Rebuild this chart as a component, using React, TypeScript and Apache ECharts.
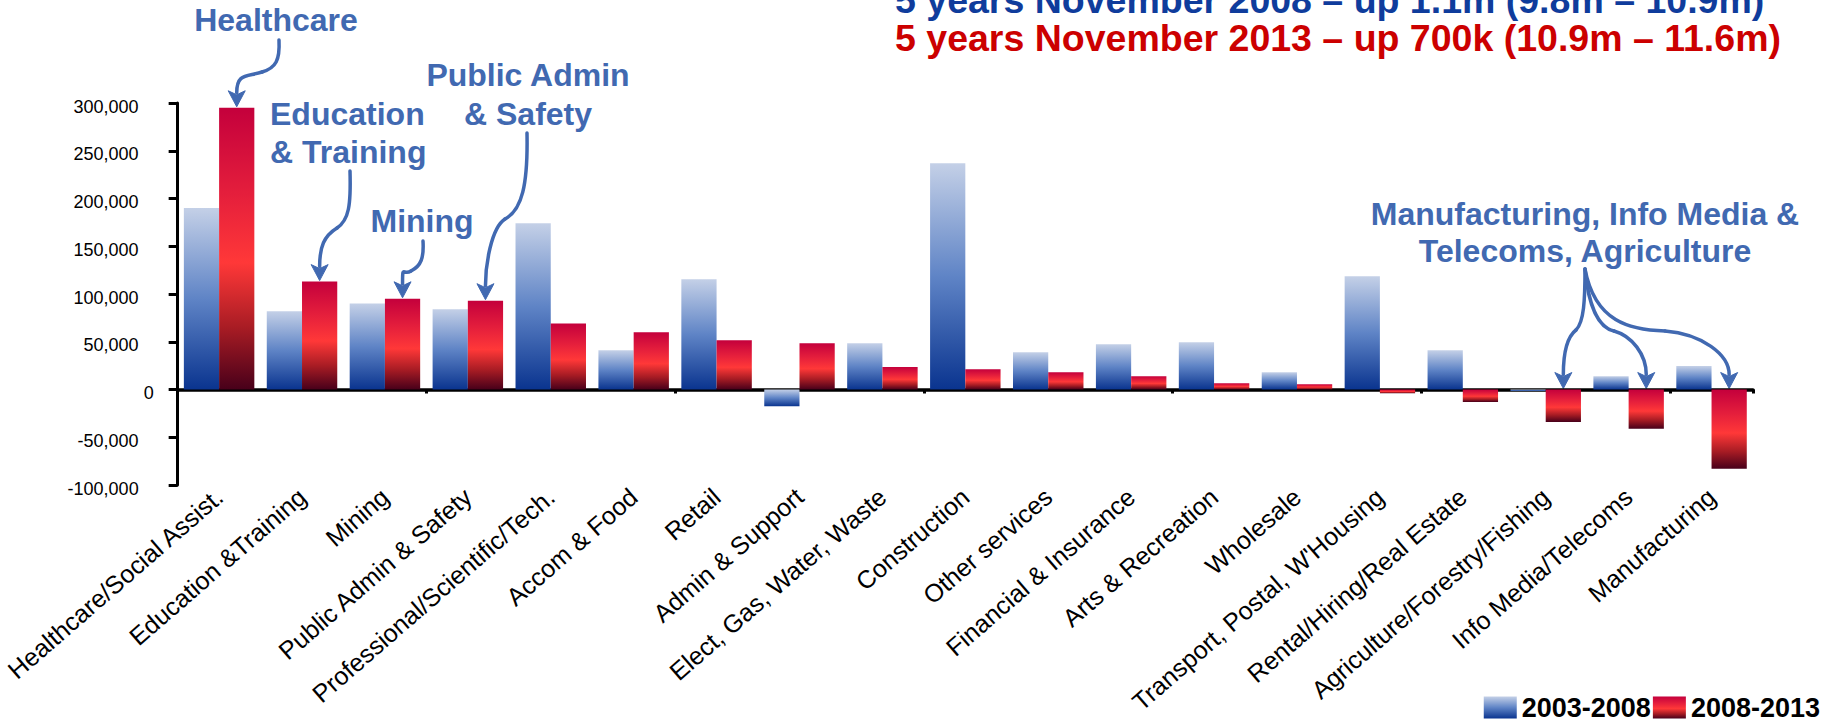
import React, { useEffect, useRef } from "react";
import * as echarts from "echarts";

const categories = [
  "Healthcare/Social Assist.",
  "Education &Training",
  "Mining",
  "Public Admin & Safety",
  "Professional/Scientific/Tech.",
  "Accom & Food",
  "Retail",
  "Admin & Support",
  "Elect, Gas, Water, Waste",
  "Construction",
  "Other services",
  "Financial & Insurance",
  "Arts & Recreation",
  "Wholesale",
  "Transport, Postal, W'Housing",
  "Rental/Hiring/Real Estate",
  "Agriculture/Forestry/Fishing",
  "Info Media/Telecoms",
  "Manufacturing",
];

const change2003to2008 = [
  190000, 82000, 90000, 84000, 174000, 41000, 115500, -17500, 48500, 237000,
  39000, 47500, 49500, 18000, 118500, 41000, -1500, 14000, 24500,
];

const change2008to2013 = [
  295000, 113000, 95000, 93000, 69000, 60000, 51500, 48500, 23500, 21300,
  18000, 14000, 6600, 5500, -4000, -13000, -34000, -41000, -83000,
];

const seriesNames = ["2003-2008", "2008-2013"];
const titleLines = [
  "5 years November 2008 \u2013 up 1.1m (9.8m \u2013 10.9m)",
  "5 years November 2013 \u2013 up 700k (10.9m \u2013 11.6m)",
];

const FONT = "'Liberation Sans', Arial, Helvetica, sans-serif";
const ANN = "#4169B1";
const BAR_CAT_GAP = 0.15;

export default function App() {
  const ref = useRef<HTMLDivElement>(null);

  useEffect(() => {
    if (!ref.current) return;
    const chart = echarts.init(ref.current, null, { renderer: "svg" });

    const blue = new echarts.graphic.LinearGradient(0, 0, 0, 1, [
      { offset: 0, color: "#C4D0E7" },
      { offset: 0.5, color: "#5F84C6" },
      { offset: 1, color: "#0A348F" },
    ]);
    const red = new echarts.graphic.LinearGradient(0, 0, 0, 1, [
      { offset: 0, color: "#C4003C" },
      { offset: 0.3, color: "#E41E3C" },
      { offset: 0.55, color: "#FF3838" },
      { offset: 0.78, color: "#A81C24" },
      { offset: 1, color: "#48001A" },
    ]);

    const fmt = (v: number) => {
      const s = Math.abs(v).toLocaleString("en-US");
      const t = (v < 0 ? "-" : "") + s;
      return v === 0 ? t : t + "{s|}";
    };

    chart.setOption({
      animation: false,
      backgroundColor: "#ffffff",
      textStyle: { fontFamily: FONT },
      grid: { left: 176, right: 72, top: 103, bottom: 239, containLabel: false },
      legend: {
        data: seriesNames,
        right: 0,
        top: 689,
        itemWidth: 33,
        itemHeight: 22,
        itemGap: 2,
        icon: "rect",
        textStyle: { fontSize: 27, fontWeight: "bold", color: "#000", fontFamily: FONT },
      },
      xAxis: [
        {
          type: "category",
          data: categories,
          position: "bottom",
          axisLine: { show: false, onZero: false },
          axisTick: { show: false },
          axisLabel: {
            interval: 0,
            rotate: 41,
            margin: 8,
            fontSize: 25,
            color: "#000",
            fontFamily: FONT,
          },
        },
        {
          type: "category",
          data: categories,
          position: "top",
          axisLine: { show: true, onZero: true, lineStyle: { color: "#000", width: 3.5 } },
          axisTick: { show: true, inside: true, length: 4, lineStyle: { color: "#000", width: 3 } },
          axisLabel: { show: false },
          splitLine: { show: false },
        },
      ],
      yAxis: {
        type: "value",
        min: -100000,
        max: 300000,
        interval: 50000,
        splitLine: { show: false },
        axisLine: { show: true, lineStyle: { color: "#000", width: 3 } },
        axisTick: { show: true, length: 9, lineStyle: { color: "#000", width: 3 } },
        axisLabel: {
          margin: 24,
          fontSize: 18,
          color: "#000",
          fontFamily: FONT,
          padding: [7, 0, 0, 0],
          formatter: fmt,
          rich: { s: { width: 15 } },
        },
      },
      series: [
        {
          name: seriesNames[0],
          type: "bar",
          xAxisIndex: 0,
          yAxisIndex: 0,
          data: change2003to2008,
          barGap: "0%",
          barCategoryGap: BAR_CAT_GAP * 100 + "%",
          itemStyle: { color: blue },
        },
        {
          name: seriesNames[1],
          type: "bar",
          xAxisIndex: 0,
          yAxisIndex: 0,
          data: change2008to2013,
          barGap: "0%",
          barCategoryGap: BAR_CAT_GAP * 100 + "%",
          itemStyle: { color: red },
        },
      ],
    });

    // Annotation arrows pointing at the 2008-2013 bars
    const cx0 = chart.convertToPixel({ xAxisIndex: 0 }, categories[0]) as number;
    const cx1 = chart.convertToPixel({ xAxisIndex: 0 }, categories[1]) as number;
    const catW = cx1 - cx0;
    const barW = (catW * (1 - BAR_CAT_GAP)) / 2;
    const redTip = (i: number) => {
      const x = (chart.convertToPixel({ xAxisIndex: 0 }, categories[i]) as number) + barW / 2;
      const y = (chart.convertToPixel({ yAxisIndex: 0 }, Math.max(change2008to2013[i], 0)) as number) - 1;
      return [x, y];
    };

    const arrowDefs = [
      { start: [279, 40], c1: [280, 60], c2: [276, 68], kink: [262, 72], c3: [247, 77], bar: 0 },
      { start: [350, 171], c1: [351, 205], c2: [349, 220], kink: [337, 228], c3: [324, 236], bar: 1 },
      { start: [423, 241], c1: [424, 258], c2: [421, 266], kink: [411, 271], c3: [403, 276], bar: 2 },
      { start: [527, 133], c1: [528, 185], c2: [522, 210], kink: [505, 219], c3: [491, 228], bar: 3 },
      { start: [1585, 269], c1: [1585, 300], c2: [1584, 322], kink: [1576, 330], c3: [1567, 337], bar: 16 },
      { start: [1585, 269], c1: [1588, 302], c2: [1597, 327], kink: [1614, 331], c3: [1632, 336], bar: 17 },
      { start: [1585, 269], c1: [1595, 322], c2: [1630, 330], kink: [1665, 331], c3: [1702, 334], bar: 18 },
    ];
    const HEAD = 16;
    const HALF = 8.5;
    const arrowEls: any[] = [];
    arrowDefs.forEach((a) => {
      const [tx, ty] = redTip(a.bar);
      const lineStyle = { stroke: ANN, lineWidth: 3.5, fill: "none", lineCap: "round" };
      arrowEls.push({
        type: "bezierCurve",
        silent: true,
        shape: {
          x1: a.start[0], y1: a.start[1],
          cpx1: a.c1[0], cpy1: a.c1[1],
          cpx2: a.c2[0], cpy2: a.c2[1],
          x2: a.kink[0], y2: a.kink[1],
        },
        style: lineStyle,
      });
      arrowEls.push({
        type: "bezierCurve",
        silent: true,
        shape: {
          x1: a.kink[0], y1: a.kink[1],
          cpx1: a.c3[0], cpy1: a.c3[1],
          cpx2: tx, cpy2: ty - HEAD - 18,
          x2: tx, y2: ty - HEAD + 2,
        },
        style: lineStyle,
      });
      arrowEls.push({
        type: "polygon",
        silent: true,
        shape: { points: [[tx, ty], [tx - HALF, ty - HEAD], [tx, ty - HEAD + 4], [tx + HALF, ty - HEAD]] },
        style: { fill: ANN, stroke: ANN, lineWidth: 1 },
      });
    });

    const annFont = `bold 32px ${FONT}`;
    const ann = (text: string, x: number, y: number, align: string) => ({
      type: "text",
      silent: true,
      x,
      y,
      style: { text, fill: ANN, font: annFont, align, verticalAlign: "middle" },
    });
    const titleFont = `bold 37.5px ${FONT}`;

    chart.setOption({
      graphic: [
        {
          type: "text",
          silent: true,
          x: 895,
          y: -0.5,
          style: { text: titleLines[0], fill: "#0F3C9C", font: titleFont, align: "left", verticalAlign: "middle" },
        },
        {
          type: "text",
          silent: true,
          x: 895,
          y: 37.5,
          style: { text: titleLines[1], fill: "#CC0000", font: titleFont, align: "left", verticalAlign: "middle" },
        },
        ann("Healthcare", 276, 20, "center"),
        ann("Education", 270, 114, "left"),
        ann("& Training", 270, 152, "left"),
        ann("Mining", 422, 221, "center"),
        ann("Public Admin", 528, 75, "center"),
        ann("& Safety", 528, 114, "center"),
        ann("Manufacturing, Info Media &", 1585, 214, "center"),
        ann("Telecoms, Agriculture", 1585, 251, "center"),
        ...arrowEls,
      ],
    });

    return () => chart.dispose();
  }, []);

  return (
    <div
      ref={ref}
      style={{ position: "absolute", left: 0, top: 0, width: 1825, height: 724, background: "#fff" }}
    />
  );
}
